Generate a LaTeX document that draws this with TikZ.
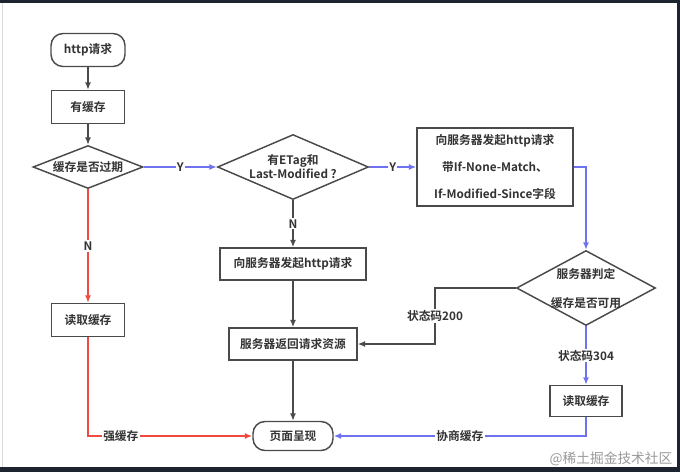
\documentclass[tikz,border=0pt]{standalone}
\usepackage{fontspec}
\setmainfont{Noto Sans CJK SC}[BoldFont={Noto Sans CJK SC Bold}]
\usetikzlibrary{shapes.geometric,arrows.meta}
\definecolor{linegray}{HTML}{4A4A4A}
\definecolor{bluel}{HTML}{6E72EE}
\definecolor{redl}{HTML}{EE4A40}
\definecolor{framec}{HTML}{1E2330}
\newcommand{\zbox}[1]{\smash{\makebox[0pt]{\raisebox{-3.5pt}{\begin{tabular}{@{}c@{}}#1\end{tabular}}}}}
\begin{document}
\begin{tikzpicture}[x=0.75pt,y=-0.75pt,
  every node/.style={font=\fontsize{8.8}{10}\selectfont\bfseries, text=black!80},
  box/.style={draw=linegray, line width=1.1pt, rectangle, inner sep=0pt},
  rbox/.style={box, rounded corners=9pt},
  dia/.style={draw=linegray, line width=1.1pt, diamond, inner sep=0pt},
  conn/.style={line width=1.1pt, draw=linegray, -{Latex[length=5.5pt,width=4.5pt]}},
  bconn/.style={conn, draw=bluel, -{Latex[length=5.5pt,width=4.5pt,color=bluel]}},
  rconn/.style={conn, draw=redl, -{Latex[length=5.5pt,width=4.5pt,color=redl]}},
  lab/.style={fill=white, inner sep=1pt}
]
\useasboundingbox (0,0) rectangle (680,472);
% frame
\fill[framec] (0,0) rectangle (680,3);
\fill[framec] (0,467) rectangle (680,472);
\fill[framec] (677,0) rectangle (680,472);
\fill[black!15] (1.5,3) rectangle (2.5,467);

% nodes
\node[rbox, minimum width={74*0.75pt}, minimum height={33*0.75pt}] (start) at (88,50) {http请求};
\node[box, minimum width={73*0.75pt}, minimum height={33*0.75pt}] (has) at (88,107) {有缓存};
\node[dia, minimum width={110*0.75pt}, minimum height={43*0.75pt}] (d1) at (88,167) {\zbox{缓存是否过期}};
\node[dia, minimum width={151*0.75pt}, minimum height={65*0.75pt}] (d2) at (293,167) {\zbox{有ETag和\\Last-Modified ?}};
\node[box, minimum width={156*0.75pt}, minimum height={78*0.75pt}, align=center] (b3) at (495,167) {向服务器发起http请求\\[10.5pt]带If-None-Match、\\[10.5pt]If-Modified-Since字段};
\node[dia, minimum width={139*0.75pt}, minimum height={75*0.75pt}] (d3) at (586,288) {\zbox{服务器判定\\[11pt]缓存是否可用}};
\node[box, minimum width={146*0.75pt}, minimum height={32*0.75pt}] (b4) at (293,264) {向服务器发起http请求};
\node[box, minimum width={128*0.75pt}, minimum height={32*0.75pt}] (b5) at (293,344) {服务器返回请求资源};
\node[rbox, minimum width={80*0.75pt}, minimum height={29*0.75pt}] (page) at (293,436) {页面呈现};
\node[box, minimum width={73*0.75pt}, minimum height={33*0.75pt}] (r1) at (88,320) {读取缓存};
\node[box, minimum width={72*0.75pt}, minimum height={31*0.75pt}] (r2) at (586,401) {读取缓存};
\coordinate (c200) at (435,288);

% connectors
\draw[conn] (start) -- (has);
\draw[conn] (has) -- (d1);
\draw[bconn] (d1.east) -- node[lab]{Y} (d2.west);
\draw[bconn] (d2.east) -- node[lab]{Y} (b3.west);
\draw[bconn] (b3.east) -| (d3.north);
\draw[conn] (d3.west) -- (c200) |- node[lab, pos=0.25]{状态码200} (b5.east);
\draw[bconn] (d3.south) -- node[lab, pos=0.5]{状态码304} (r2.north);
\draw[bconn] (r2.south) |- node[lab, pos=0.75]{协商缓存} (page.east);
\draw[conn] (d2.south) -- node[lab]{N} (b4.north);
\draw[conn] (b4) -- (b5);
\draw[conn] (b5) -- (page);
\draw[rconn] (d1.south) -- node[lab]{N} (r1.north);
\draw[rconn] (r1.south) |- node[lab, pos=0.6]{强缓存} (page.west);

% watermark
\node[font=\fontsize{10.3}{12}\selectfont, text=black!40] (wm) at (611,459) {@稀土掘金技术社区};
\end{tikzpicture}
\end{document}
